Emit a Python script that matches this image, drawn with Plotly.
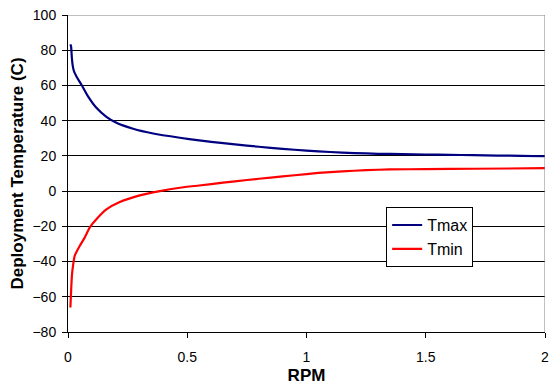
import plotly.graph_objects as go

rpm_max = [0.010, 0.013, 0.016, 0.019, 0.024, 0.035, 0.056, 0.084, 0.119, 0.161, 0.203, 0.273, 0.357, 0.469,
           0.55, 0.6, 0.7, 0.8, 0.9, 1.0, 1.1, 1.2, 1.3, 1.4, 1.5, 1.6, 1.7, 1.8, 1.9, 2.0]
tmax = [83.3, 82, 76, 72, 68.5, 65.2, 60.5, 53.8, 47.3, 42.2, 38.8, 35.4, 32.7, 30.3,
        28.8, 28.0, 26.5, 25.2, 24, 23, 22.2, 21.6, 21.2, 21, 20.8, 20.6, 20.4, 20.2, 20.0, 19.8]

rpm_min = [0.010, 0.012, 0.014, 0.017, 0.021, 0.028, 0.049, 0.070, 0.091, 0.119, 0.161, 0.217, 0.301,
           0.385, 0.469, 0.55, 0.65, 0.75, 0.85, 0.95, 1.05, 1.15, 1.25, 1.35, 1.5, 1.7, 2.0]
tmin = [-66.1, -60, -53.8, -47, -42.5, -36.8, -31.2, -26.4, -20.7, -16, -10.4, -6.2, -2.4,
        0, 1.9, 3.2, 4.8, 6.3, 7.7, 9, 10.3, 11.2, 11.9, 12.3, 12.5, 12.7, 13]

x_ticks = [0, 0.5, 1, 1.5, 2]
x_tick_text = ["0", "0.5", "1", "1.5", "2"]
y_ticks = [-80, -60, -40, -20, 0, 20, 40, 60, 80, 100]

font_family = "Liberation Sans, Arial, sans-serif"

fig = go.Figure()
fig.add_trace(go.Scatter(x=rpm_max, y=tmax, mode="lines", name="Tmax",
                         line=dict(color="#000080", width=2.2, shape="spline", smoothing=0.6)))
fig.add_trace(go.Scatter(x=rpm_min, y=tmin, mode="lines", name="Tmin",
                         line=dict(color="#FF0000", width=2.2, shape="spline", smoothing=0.6)))

# grey plot-area border (top and right)
fig.add_shape(type="line", xref="x", yref="y", x0=0, x1=2, y0=100, y1=100,
              line=dict(color="#808080", width=1), layer="above")
fig.add_shape(type="line", xref="x", yref="y", x0=2, x1=2, y0=-80, y1=100,
              line=dict(color="#808080", width=1), layer="above")

fig.update_layout(
    width=550, height=385,
    margin=dict(l=68, r=5, t=15, b=53),
    paper_bgcolor="white", plot_bgcolor="white",
    font=dict(family=font_family, size=14, color="black"),
    showlegend=True,
    legend=dict(x=0.667, y=0.394, xanchor="left", yanchor="top",
                bgcolor="white", bordercolor="black", borderwidth=1,
                font=dict(size=16), tracegroupgap=0, itemwidth=30),
    xaxis=dict(range=[0, 2], tickvals=x_ticks, ticktext=x_tick_text,
               showgrid=False, zeroline=False, automargin=False,
               showline=True, linecolor="black", linewidth=1,
               ticks="outside", ticklen=5, tickcolor="black",
               ticklabelstandoff=7, ticklabeloverflow="allow",
               title=dict(text="<b>RPM</b>", font=dict(size=17), standoff=9)),
    yaxis=dict(range=[-80, 100], tickvals=y_ticks, automargin=False,
               showgrid=True, gridcolor="black", gridwidth=1,
               zeroline=False,
               showline=True, linecolor="black", linewidth=1,
               ticks="outside", ticklen=5, tickcolor="black",
               ticklabelstandoff=3, ticklabeloverflow="allow",
               title=dict(text="<b>Deployment Temperature (C)</b>", font=dict(size=17), standoff=4)),
)

fig.write_html("out.html",
               config={"displayModeBar": False},
               post_script="document.body.style.margin='0';document.body.style.overflow='hidden';")
